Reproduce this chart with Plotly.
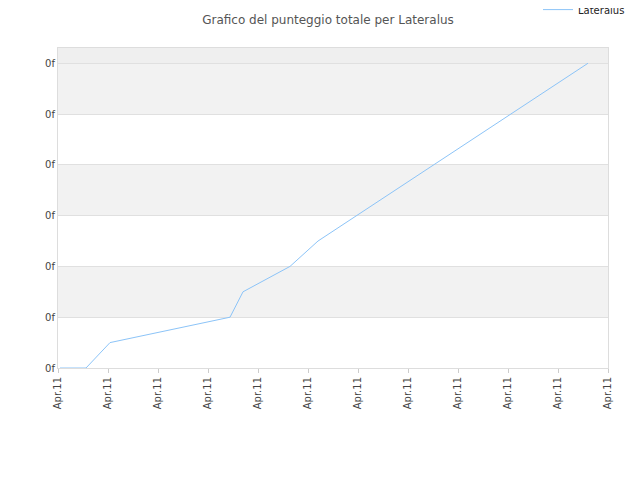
import plotly.graph_objects as go

x_vals = [0.04, 0.56, 1.04, 3.44, 3.7, 4.64, 5.2, 10.6]
y_vals = [0, 0, 0.5, 1.0, 1.5, 2.0, 2.5, 6.0]
x_ticks = list(range(12))
x_labels = ["Apr.11"] * 12
y_ticks = [0, 1, 2, 3, 4, 5, 6]
y_labels = ["0f"] * 7

fig = go.Figure()
fig.add_trace(go.Scatter(x=x_vals, y=y_vals, mode="lines", name="Lateralus",
                         line=dict(color="#8cc4f8", width=1)))
shapes = []
for lo, hi in [(1, 2), (3, 4), (5, 6), (6, 6.3)]:
    shapes.append(dict(type="rect", xref="paper", yref="y", x0=0, x1=1, y0=lo, y1=hi,
                       fillcolor="#f2f2f2" if hi != 6.3 else "#efefef", line=dict(width=0), layer="below"))
fig.update_layout(
    width=640, height=480, paper_bgcolor="white", plot_bgcolor="white",
    margin=dict(l=50, r=40, t=40, b=120, autoexpand=False),
    title=dict(text="Grafico del punteggio totale per Lateralus", x=0.5, xanchor="center",
               y=0.975, yanchor="middle",
               font=dict(family="DejaVu Sans", size=12, color="#555")),
    font=dict(family="DejaVu Sans", size=10, color="#444"),
    showlegend=True,
    legend=dict(x=1.04, xanchor="right", y=1.12, yanchor="middle", bgcolor="rgba(0,0,0,0)",
                font=dict(size=10, color="#222")),
    shapes=shapes,
    xaxis=dict(range=[0, 11], tickvals=x_ticks, ticktext=x_labels, tickangle=-90,
               showgrid=False, zeroline=False, showline=True, linecolor="#ddd",
               ticks="outside", ticklen=4, tickcolor="#ccc", mirror=True),
    yaxis=dict(range=[0, 6.3], tickvals=y_ticks, ticktext=y_labels, showgrid=True,
               gridcolor="#e0e0e0", zeroline=False, showline=True, linecolor="#ddd", mirror=True),
)
fig.write_html("out.html")
